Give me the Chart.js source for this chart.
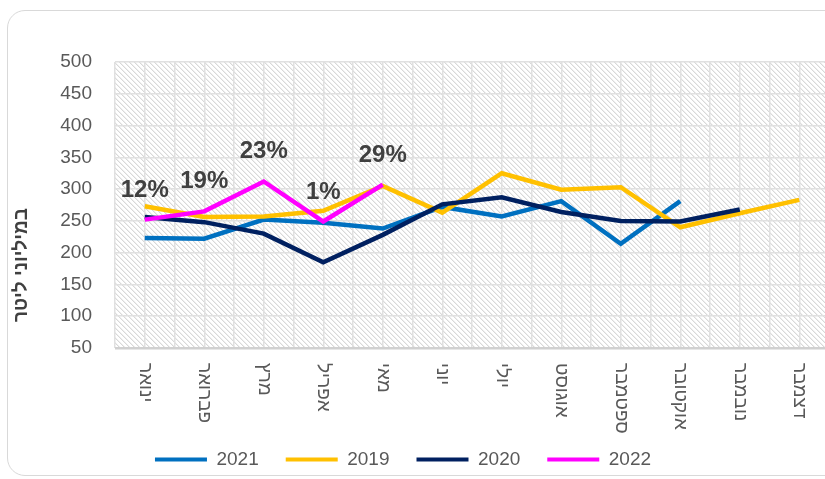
<!DOCTYPE html>
<html>
<head>
<meta charset="utf-8">
<script src="https://cdn.jsdelivr.net/npm/chart.js@4.4.0/dist/chart.umd.min.js"></script>
<style>
  html, body { margin: 0; padding: 0; background: #fff; overflow: hidden; width: 825px; height: 479px; }
  #card { position: absolute; left: 7px; top: 10px; width: 900px; height: 466px; border: 1px solid #d9d9d9; border-radius: 18px; box-sizing: border-box; }
  #wrap { position: absolute; left: -23px; top: 0; width: 852px; height: 479px; }
</style>
</head>
<body>
<div id="card"></div>
<div id="wrap"><canvas id="chart"></canvas></div>
<script>
const months = ["ינואר", "פברואר", "מרץ", "אפריל", "מאי", "יוני", "יולי", "אוגוסט", "ספטמבר", "אוקטובר", "נובמבר", "דצמבר"];
const years = ["2021", "2019", "2020", "2022"];
const colors = ["#0070C0", "#FFC000", "#002060", "#FF00FF"];

const v2021 = [223, 222, 252, 247, 238, 272, 257, 281, 214, 281, null, null];
const v2019 = [273, 256, 257, 266, 305, 263, 325, 299, 303, 240, 262, 283];
const v2020 = [256, 248, 230, 185, 228, 276, 287, 264, 250, 249, 268, null];
const v2022 = [252, 265, 312, 249, 307, null, null, null, null, null, null, null];
const pct2022 = ["12%", "19%", "23%", "1%", "29%"];

const yTitle = "במיליוני ליטר";
const OFFSET = 23; // canvas is shifted left by this much

Chart.defaults.font.family = "Arial, 'Liberation Sans', sans-serif";

// diagonal hatch for the plot background
function makeHatch() {
  const c = document.createElement("canvas");
  c.width = 5; c.height = 5;
  const g = c.getContext("2d");
  g.fillStyle = "#fff";
  g.fillRect(0, 0, 5, 5);
  for (let i = 0; i < 5; i++) {
    g.fillStyle = "#d8d8d8";
    g.fillRect(i, i, 1, 1);
    g.fillStyle = "#efefef";
    g.fillRect((i + 1) % 5, i, 1, 1);
  }
  return g.createPattern(c, "repeat");
}

const hatchBg = {
  id: "hatchBg",
  beforeDraw(chart) {
    const { ctx, chartArea: a } = chart;
    ctx.save();
    ctx.fillStyle = makeHatch();
    ctx.fillRect(a.left, a.top, a.width, a.height);
    ctx.restore();
  },
};

const extraText = {
  id: "extraText",
  afterDraw(chart) {
    const { ctx, chartArea: a } = chart;
    const x = chart.scales.x;

    // month labels, rotated clockwise
    ctx.save();
    ctx.fillStyle = "#595959";
    ctx.font = "19px Arial, 'Liberation Sans', sans-serif";
    ctx.textAlign = "left";
    ctx.textBaseline = "middle";
    x.getLabels().forEach((lab, i) => {
      ctx.save();
      ctx.translate(x.getPixelForValue(i), a.bottom + 15);
      ctx.rotate(Math.PI / 2);
      ctx.fillText(lab, 0, 0);
      ctx.restore();
    });
    ctx.restore();

    // y axis title
    ctx.save();
    ctx.translate(22 + OFFSET, 265);
    ctx.rotate(-Math.PI / 2);
    ctx.fillStyle = "#404040";
    ctx.font = "bold 19px Arial, 'Liberation Sans', sans-serif";
    ctx.textAlign = "center";
    ctx.textBaseline = "middle";
    ctx.fillText(yTitle, 0, 0);
    ctx.restore();

    // percent labels above 2022 line
    const meta = chart.getDatasetMeta(3);
    ctx.save();
    ctx.fillStyle = "#404040";
    ctx.font = "bold 24px Arial, 'Liberation Sans', sans-serif";
    ctx.textAlign = "center";
    ctx.textBaseline = "alphabetic";
    pct2022.forEach((p, i) => {
      const pt = meta.data[i];
      ctx.fillText(p, pt.x, pt.y - 23);
    });
    ctx.restore();
  },
};

const series = [v2021, v2019, v2020, v2022];

new Chart(document.getElementById("chart"), {
  type: "line",
  plugins: [hatchBg, extraText],
  data: {
    labels: months,
    datasets: series.map((vals, i) => ({
      label: years[i],
      data: vals,
      borderColor: colors[i],
      backgroundColor: colors[i],
      borderWidth: 4.5,
      pointRadius: 0,
      tension: 0,
      order: 4 - i,
    })),
  },
  options: {
    responsive: true,
    maintainAspectRatio: false,
    animation: false,
    layout: { padding: { top: 62, right: 0, left: 0, bottom: 0 } },
    scales: {
      x: {
        type: "category",
        offset: true,
        grid: { display: false },
        border: { display: false },
        ticks: { display: false },
        afterFit(s) { s.height = 75; },
      },
      x2: {
        type: "linear",
        position: "bottom",
        min: 0,
        max: 24,
        ticks: { display: false, stepSize: 1 },
        grid: { color: "#e0e0e0", lineWidth: 1.5, drawTicks: false },
        border: { display: false },
        afterFit(s) { s.height = 0; },
      },
      y: {
        min: 50,
        max: 500,
        ticks: { stepSize: 50, padding: 23, color: "#595959", font: { size: 19 } },
        grid: {
          color: (c) => (c.tick && c.tick.value === 50 ? "#d0d0d0" : "#e0e0e0"),
          lineWidth: (c) => (c.tick && c.tick.value === 50 ? 2.5 : 1.5),
          drawTicks: false,
        },
        border: { display: false },
        afterFit(s) { s.width = 115 + OFFSET; },
      },
    },
    plugins: {
      title: { display: false },
      tooltip: { enabled: false },
      legend: {
        display: true,
        position: "bottom",
        align: "center",
        labels: {
          boxWidth: 52,
          boxHeight: 4,
          padding: 27,
          color: "#595959",
          font: { size: 19 },
          sort: (a, b) => a.datasetIndex - b.datasetIndex,
          generateLabels(chart) {
            const items = Chart.defaults.plugins.legend.labels.generateLabels(chart);
            items.forEach((it) => { it.lineWidth = 0; it.fillStyle = it.strokeStyle; });
            return items;
          },
        },
      },
    },
  },
});
</script>
</body>
</html>
